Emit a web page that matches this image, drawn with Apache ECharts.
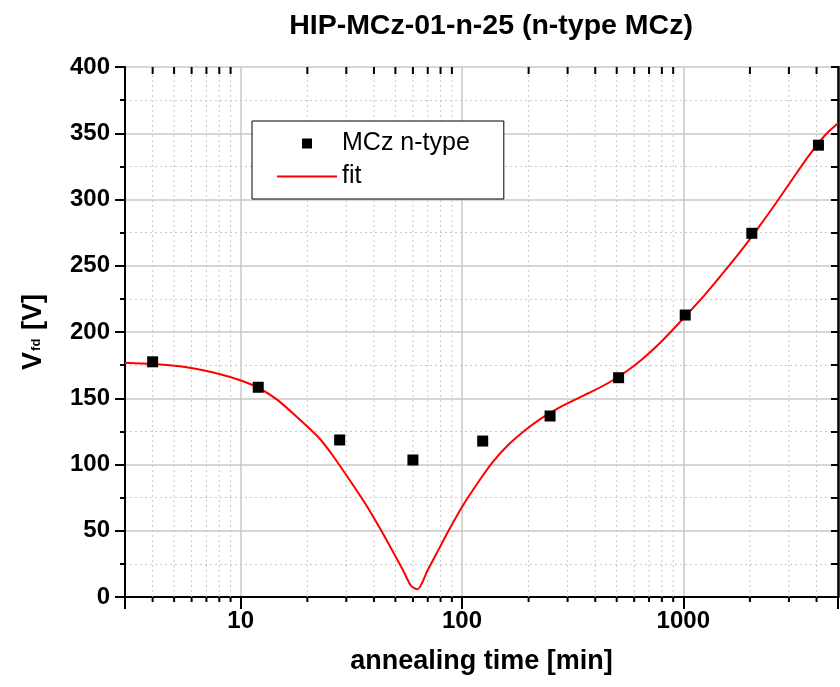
<!DOCTYPE html>
<html>
<head>
<meta charset="utf-8">
<script src="https://cdn.jsdelivr.net/npm/echarts@6/dist/echarts.min.js"></script>
<style>
html,body{margin:0;padding:0;background:#fff;}
#chart{width:840px;height:687px;}
</style>
</head>
<body>
<div id="chart"></div>
<script>
// Measured data (annealing time [min], Vfd [V])
const timeMin = [4, 12, 28, 60, 124, 250, 510, 1020, 2040, 4080];
const vfd = [177.5, 158.3, 118.5, 103.4, 117.7, 136.6, 165.5, 212.8, 274.5, 341];
// Fit curve
const fitT = [3, 4, 5.6, 8, 11.3, 14.5, 18.3, 22.6, 26, 31, 36.7, 42, 48.6, 54, 58.8, 62.9, 70, 80, 87.5, 100, 120, 137, 160, 194, 230, 275, 330, 389, 460, 550, 650, 778, 1000, 1250, 1556, 1900, 2200, 2600, 3110, 3700, 4390, 5000];
const fitV = [176.8, 175.8, 173.5, 168.3, 160, 149.3, 134.5, 120, 107, 88.5, 70, 53.5, 34.6, 20.6, 8.5, 5.8, 20.4, 38.6, 50.9, 68, 88.1, 101.5, 114, 126.2, 135.2, 143, 149.6, 155.3, 161.7, 170, 179.3, 191.1, 210.2, 228, 247, 265.2, 279.5, 296.4, 315.3, 333.3, 348.9, 357.6];
// Axis ticks
const xMajorTicks = [10, 100, 1000];
const xMinorTicks = [4, 5, 6, 7, 8, 9, 20, 30, 40, 50, 60, 70, 80, 90, 200, 300, 400, 500, 600, 700, 800, 900, 2000, 3000, 4000];
const xMin = 3, xMax = 5000;
const yMin = 0, yMax = 400, yStep = 50;

const FONT = "'Liberation Sans', Arial, sans-serif";
const GRID_C = '#c8c8c8';
const SQUARE = 'path://M0,0L10,0L10,10L0,10Z';
const HLINE = 'path://M0,0L60,0L60,2L0,2Z';

const chart = echarts.init(document.getElementById('chart'));
chart.setOption({
  animation: false,
  backgroundColor: '#fff',
  textStyle: {fontFamily: FONT},
  title: {
    text: 'HIP-MCz-01-n-25 (n-type MCz)',
    left: 486, top: 7, textAlign: 'center',
    textStyle: {fontFamily: FONT, fontSize: 28.5, fontWeight: 'bold', color: '#000'}
  },
  grid: {left: 125, right: 2, top: 67, bottom: 90},
  legend: {
    data: [
      {name: 'MCz n-type', icon: SQUARE, itemStyle: {color: '#000', opacity: 1}},
      {name: 'fit', icon: HLINE, itemStyle: {color: '#ff0000', opacity: 1}}
    ],
    orient: 'vertical',
    left: 252, top: 121,
    backgroundColor: '#fff',
    borderColor: '#000', borderWidth: 1,
    padding: [10, 34, 10, 25],
    itemWidth: 60, itemHeight: 10, itemGap: 8,
    symbolKeepAspect: true,
    textStyle: {fontFamily: FONT, fontSize: 25, color: '#000', lineHeight: 24}
  },
  xAxis: [{
    type: 'log', logBase: 10, min: xMin, max: xMax,
    position: 'bottom',
    name: 'annealing time [min]', nameLocation: 'middle', nameGap: 51,
    nameTextStyle: {fontFamily: FONT, fontSize: 27, fontWeight: 'bold', color: '#000'},
    axisLine: {show: true, lineStyle: {color: '#000', width: 2}},
    axisTick: {show: true, inside: false, length: 10, lineStyle: {color: '#000', width: 2}},
    axisLabel: {
      show: true, margin: 12, fontFamily: FONT, fontSize: 24, fontWeight: 'bold', color: '#000',
      showMinLabel: false, showMaxLabel: false,
      formatter: function (v) { return xMajorTicks.indexOf(Math.round(v)) >= 0 ? String(Math.round(v)) : ''; }
    },
    splitLine: {show: true, lineStyle: {color: GRID_C, width: 1.5}}
  }, {
    type: 'log', logBase: 10, min: xMin, max: xMax,
    position: 'top',
    axisLine: {show: true, lineStyle: {color: '#000', width: 2}},
    axisTick: {show: true, inside: true, length: 12, lineStyle: {color: '#000', width: 2}},
    axisLabel: {show: false},
    splitLine: {show: false}
  }],
  yAxis: [{
    type: 'value', min: yMin, max: yMax, interval: yStep,
    position: 'left',
    name: '{v|V}{s|fd}{v| [V]}', nameLocation: 'middle', nameGap: 78,
    nameTextStyle: {
      color: '#000',
      rich: {
        v: {fontFamily: FONT, fontSize: 27, fontWeight: 'bold', color: '#000'},
        s: {fontFamily: FONT, fontSize: 13, fontWeight: 'bold', color: '#000', padding: [0, 1, -6, 1]}
      }
    },
    axisLine: {show: true, lineStyle: {color: '#000', width: 2}},
    axisTick: {show: true, inside: false, length: 10, lineStyle: {color: '#000', width: 2}},
    minorTick: {show: true, splitNumber: 2, length: 5, lineStyle: {color: '#000', width: 2}},
    axisLabel: {margin: 15, fontFamily: FONT, fontSize: 24, fontWeight: 'bold', color: '#000'},
    splitLine: {show: true, lineStyle: {color: GRID_C, width: 1.5}},
    minorSplitLine: {show: true, lineStyle: {color: GRID_C, width: 1, type: [2, 3]}}
  }, {
    type: 'value', min: yMin, max: yMax, interval: yStep,
    position: 'right',
    axisLine: {show: true, lineStyle: {color: '#000', width: 2.5}},
    axisTick: {show: true, inside: true, length: 7, lineStyle: {color: '#000', width: 2}},
    minorTick: {show: true, splitNumber: 2, length: 7, lineStyle: {color: '#000', width: 2}},
    axisLabel: {show: false},
    splitLine: {show: false}
  }],
  series: [{
    name: 'minorX',
    type: 'custom',
    xAxisIndex: 0, yAxisIndex: 0,
    silent: true, z: 1,
    clip: false,
    data: xMinorTicks.map(v => [v, yMin]),
    renderItem: function (params, api) {
      const v = api.value(0);
      const pb = api.coord([v, yMin]);
      const pt = api.coord([v, yMax]);
      return {
        type: 'group',
        children: [
          {type: 'line', shape: {x1: pb[0], y1: pb[1], x2: pt[0], y2: pt[1]},
           style: {stroke: GRID_C, lineWidth: 1, lineDash: [2, 3]}},
          {type: 'line', shape: {x1: pb[0], y1: pb[1], x2: pb[0], y2: pb[1] + 5},
           style: {stroke: '#000', lineWidth: 2}},
          {type: 'line', shape: {x1: pt[0], y1: pt[1], x2: pt[0], y2: pt[1] + 7},
           style: {stroke: '#000', lineWidth: 2}}
        ]
      };
    }
  }, {
    name: 'fit',
    type: 'line',
    xAxisIndex: 0, yAxisIndex: 0,
    data: fitT.map((t, i) => [t, fitV[i]]),
    symbol: 'none', showSymbol: false, smooth: 0.25,
    lineStyle: {color: '#ff0000', width: 2},
    itemStyle: {color: '#ff0000'},
    z: 3
  }, {
    name: 'MCz n-type',
    type: 'scatter',
    xAxisIndex: 0, yAxisIndex: 0,
    data: timeMin.map((t, i) => [t, vfd[i]]),
    symbol: 'rect', symbolSize: 11,
    itemStyle: {color: '#000', opacity: 1},
    z: 4
  }]
});
</script>
</body>
</html>
